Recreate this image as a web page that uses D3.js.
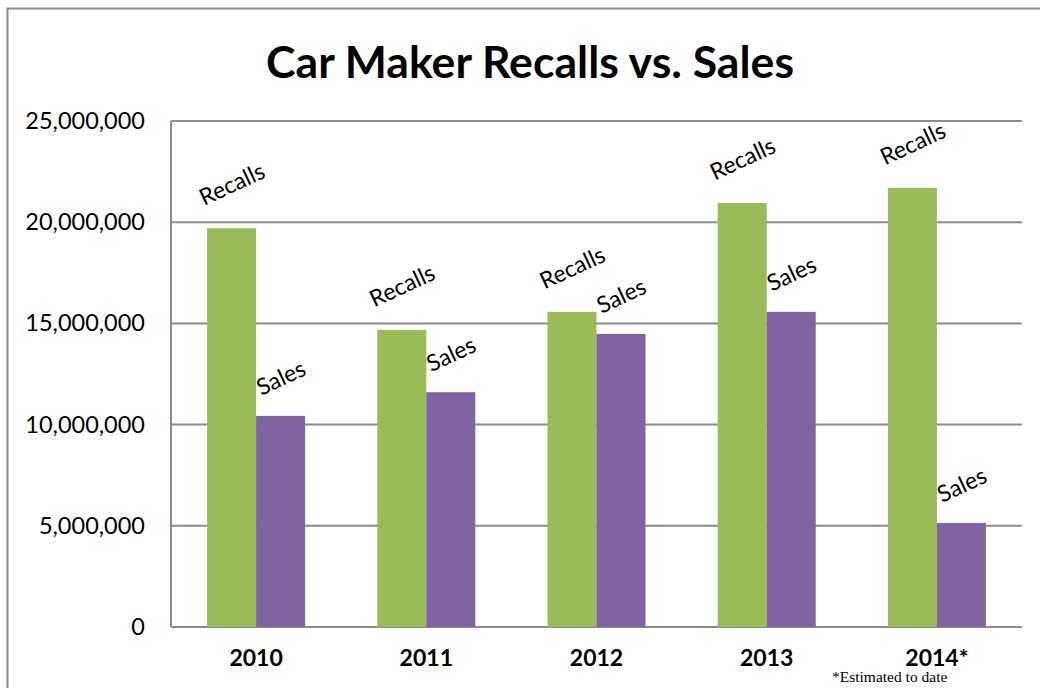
<!DOCTYPE html>
<html>
<head>
<meta charset="utf-8">
<script src="https://cdn.jsdelivr.net/npm/d3@7"></script>
<style>
  body { margin: 0; background: #fff; }
  svg { display: block; }
</style>
</head>
<body>
<svg id="chart" width="1040" height="688"></svg>
<script>
const years = ['2010', '2011', '2012', '2013', '2014*'];
const recalls = [19700000, 14680000, 15570000, 20950000, 21700000];
const sales = [10430000, 11600000, 14480000, 15570000, 5140000];
const yTicks = [0, 5000000, 10000000, 15000000, 20000000, 25000000];
const seriesNames = ['Recalls', 'Sales'];
const seriesColors = ['#9bbb59', '#8064a2'];

const font = 'Lato, "Open Sans", sans-serif';
const margin = {top: 121, right: 18, bottom: 61, left: 171};
const width = 1040 - margin.left - margin.right,
    height = 688 - margin.top - margin.bottom;

const svg = d3.select('#chart');

// outer frame
svg.append('rect')
    .attr('x', 7.5).attr('y', 8.5)
    .attr('width', 1100).attr('height', 800)
    .attr('fill', 'none')
    .attr('stroke', '#8c8c8c')
    .attr('stroke-width', 2);

svg.append('text')
    .attr('x', 530).attr('y', 78)
    .attr('text-anchor', 'middle')
    .attr('font-family', font)
    .attr('font-weight', 'bold')
    .attr('font-size', 44)
    .attr('textLength', 528)
    .attr('lengthAdjust', 'spacingAndGlyphs')
    .text('Car Maker Recalls vs. Sales');

const g = svg.append('g')
    .attr('transform', 'translate(' + margin.left + ',' + margin.top + ')');

const x0 = d3.scaleBand().domain(years).range([0, width]).paddingInner(0.424).paddingOuter(0.212);
const x1 = d3.scaleBand().domain(seriesNames).range([0, x0.bandwidth()]);
const y = d3.scaleLinear().domain([0, 25000000]).range([height, 0]);

// gridlines
g.append('g')
    .selectAll('line')
    .data(yTicks)
    .join('line')
    .attr('x1', 0).attr('x2', width)
    .attr('y1', d => y(d)).attr('y2', d => y(d))
    .attr('stroke', '#8c8c8c')
    .attr('stroke-width', 2);

g.append('line')
    .attr('x1', 0).attr('x2', 0)
    .attr('y1', 0).attr('y2', height)
    .attr('stroke', '#8c8c8c')
    .attr('stroke-width', 2);

// y axis labels
const yAxis = d3.axisLeft(y).tickValues(yTicks).tickSize(0).tickPadding(26)
    .tickFormat(d3.format(','));
g.append('g')
    .call(yAxis)
    .call(s => s.select('.domain').remove())
    .selectAll('text')
    .attr('font-family', font)
    .attr('font-size', 23.5)
    .attr('fill', '#000');

// x axis labels
const xAxis = d3.axisBottom(x0).tickSize(0).tickPadding(23);
g.append('g')
    .attr('transform', 'translate(0,' + height + ')')
    .call(xAxis)
    .call(s => s.select('.domain').remove())
    .selectAll('text')
    .attr('font-family', font)
    .attr('font-weight', 'bold')
    .attr('font-size', 23)
    .attr('fill', '#000');

const rows = [];
years.forEach((yr, i) => {
    rows.push({year: yr, series: 'Recalls', value: recalls[i]});
    rows.push({year: yr, series: 'Sales', value: sales[i]});
});
const color = d3.scaleOrdinal().domain(seriesNames).range(seriesColors);

g.append('g')
    .selectAll('rect')
    .data(rows)
    .join('rect')
    .attr('x', d => x0(d.year) + x1(d.series))
    .attr('y', d => y(d.value))
    .attr('width', x1.bandwidth())
    .attr('height', d => height - y(d.value))
    .attr('fill', d => color(d.series));

// rotated data labels
g.append('g')
    .selectAll('text')
    .data(rows)
    .join('text')
    .attr('transform', d => {
        let cx = x0(d.year) + x1(d.series) + x1.bandwidth() / 2;
        let cy = y(d.value) - (d.series === 'Recalls' ? 45 : 39);
        return 'translate(' + cx + ',' + cy + ') rotate(-25)';
    })
    .attr('text-anchor', 'middle')
    .attr('dominant-baseline', 'central')
    .attr('font-family', font)
    .attr('font-size', 23)
    .text(d => d.series);

svg.append('text')
    .attr('x', 832).attr('y', 682)
    .attr('font-family', '"Liberation Serif", "Times New Roman", serif')
    .attr('font-size', 15.5)
    .text('*Estimated to date');
</script>
</body>
</html>
